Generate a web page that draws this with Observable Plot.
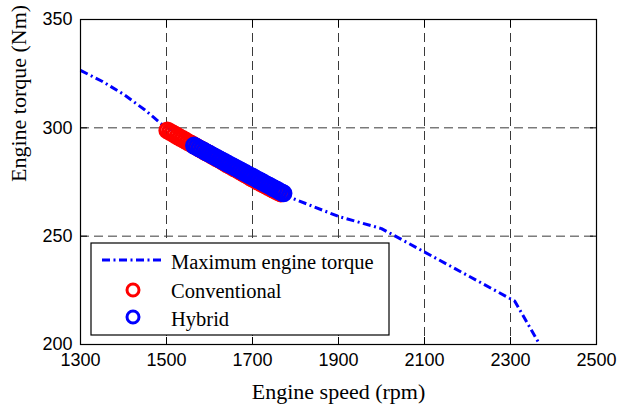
<!DOCTYPE html>
<html><head><meta charset="utf-8">
<script src="https://cdn.jsdelivr.net/npm/d3@7"></script>
<script src="https://cdn.jsdelivr.net/npm/@observablehq/plot@0.6"></script>
<style>
body{margin:0;background:#fff}
#wrap{position:relative;width:632px;height:404px;background:#fff}
#legend{position:absolute;left:0;top:0}
</style>
</head><body><div id="wrap"></div>
<script>
// ---- data ----
const xTicks = [1300, 1500, 1700, 1900, 2100, 2300, 2500];
const yTicks = [200, 250, 300, 350];
const xGrid = [1500, 1700, 1900, 2100, 2300];
const yGrid = [250, 300, 350];

const maxSpeed  = [1300, 1350, 1400, 1450, 1490, 1600, 1700, 1780, 1900, 2000, 2310, 2368];
const maxTorque = [326.5, 321.5, 315.5, 308.2, 301.5, 289.0, 277.5, 268.5, 259.1, 253.5, 220.0, 200.0];

const convSpeed  = [1502,1508,1514,1520,1526,1532,1538,1544,1550,1556,1562,1568,1574,1580,1586,1592,1598,1604,1610,1616,1622,1628,1634,1640,1646,1652,1658,1664,1670,1676,1682,1688,1694,1700,1706,1712,1718,1724,1730,1736,1742,1748,1754,1760,1766];
const convTorque = [298.8,298.1,297.5,296.8,296.1,295.4,294.8,294.1,293.4,292.8,292.1,291.4,290.7,290.1,289.4,288.7,288.1,287.4,286.7,286.0,285.4,284.7,284.0,283.3,282.7,282.0,281.3,280.7,280.0,279.3,278.6,278.0,277.3,276.6,276.0,275.3,274.6,274.0,273.4,272.8,272.2,271.5,270.9,270.3,269.7];

const hybSpeed  = [1564,1570,1576,1582,1588,1594,1600,1606,1612,1618,1624,1630,1636,1642,1648,1654,1660,1666,1672,1678,1684,1690,1696,1702,1708,1714,1720,1726,1732,1738,1744,1750,1756,1762,1768,1772];
const hybTorque = [291.8,291.2,290.5,289.9,289.3,288.6,288.0,287.4,286.7,286.1,285.4,284.8,284.2,283.5,282.9,282.3,281.6,281.0,280.4,279.7,279.1,278.4,277.8,277.2,276.5,275.9,275.3,274.6,274.0,273.4,272.7,272.1,271.5,270.8,270.2,269.8];

const xLabel = "Engine speed (rpm)";
const yLabel = "Engine torque (Nm)";
const legendLabels = ["Maximum engine torque", "Conventional", "Hybrid"];
const blue = "#0000ff", red = "#ff0000";

const maxData  = maxSpeed.map((s, i) => ({speed: s, torque: maxTorque[i]}));
const convData = convSpeed.map((s, i) => ({speed: s, torque: convTorque[i]}));
const hybData  = hybSpeed.map((s, i) => ({speed: s, torque: hybTorque[i]}));

const tickFont = "Liberation Sans, Arial, sans-serif";
const serif = "Liberation Serif, Times New Roman, serif";
const dashDot = "8,3.5,2,3.5";

const chart = Plot.plot({
  width: 632, height: 404,
  marginLeft: 80, marginRight: 36, marginTop: 19, marginBottom: 60,
  style: {background: "white", overflow: "visible", fontFamily: tickFont, fontSize: "18px"},
  x: {domain: [1300, 2500]},
  y: {domain: [200, 350]},
  marks: [
    Plot.ruleX(xGrid, {stroke: "#3a3a3a", strokeWidth: 1, strokeDasharray: "9,5"}),
    Plot.ruleY(yGrid, {stroke: "#3a3a3a", strokeWidth: 1, strokeDasharray: "9,5"}),
    Plot.line(maxData, {x: "speed", y: "torque", stroke: blue, strokeWidth: 3, strokeDasharray: dashDot, strokeLinecap: "butt", strokeLinejoin: "miter"}),
    Plot.dot(convData, {x: "speed", y: "torque", r: 7.5, stroke: red, strokeWidth: 3, fill: "none"}),
    Plot.dot(hybData, {x: "speed", y: "torque", r: 7.5, stroke: blue, strokeWidth: 3, fill: "none"}),
    Plot.frame({stroke: "black", strokeWidth: 1.2}),
    // inward ticks
    Plot.axisX({ticks: xTicks, tickSize: 7, dy: -7, tickFormat: () => "", label: null, stroke: "black"}),
    Plot.axisX({ticks: xTicks, anchor: "top", tickSize: 7, dy: 7, tickFormat: () => "", label: null, stroke: "black"}),
    Plot.axisY({ticks: yTicks, tickSize: 7, dx: 7, tickFormat: () => "", label: null, stroke: "black"}),
    Plot.axisY({ticks: yTicks, anchor: "right", tickSize: 7, dx: -7, tickFormat: () => "", label: null, stroke: "black"}),
    // tick labels
    Plot.axisX({ticks: xTicks, tickSize: 0, tickPadding: 9, tickFormat: d => String(d), label: null, fontSize: 18, fontFamily: tickFont, fill: "black"}),
    Plot.axisY({ticks: yTicks, tickSize: 0, tickPadding: 8, tickFormat: d => String(d), label: null, fontSize: 18, fontFamily: tickFont, fill: "black"}),
    // axis titles
    Plot.text([xLabel], {frameAnchor: "bottom", text: d => d, dy: 54, lineAnchor: "bottom", fontSize: 22, fontFamily: serif, fill: "black"}),
    Plot.text([yLabel], {frameAnchor: "left", text: d => d, dx: -55, rotate: -90, lineAnchor: "bottom", fontSize: 22, fontFamily: serif, fill: "black"})
  ]
});

const wrap = document.getElementById("wrap");
wrap.appendChild(chart);

// legend overlay
const lg = d3.select(wrap).append("svg").attr("id", "legend")
  .attr("width", 632).attr("height", 404);
lg.append("rect").attr("x", 91).attr("y", 243).attr("width", 298).attr("height", 92)
  .attr("fill", "white").attr("stroke", "black").attr("stroke-width", 1.2);
lg.append("line").attr("x1", 102).attr("x2", 164).attr("y1", 260).attr("y2", 260)
  .attr("stroke", blue).attr("stroke-width", 3).attr("stroke-dasharray", dashDot);
lg.append("circle").attr("cx", 133).attr("cy", 290).attr("r", 6)
  .attr("fill", "none").attr("stroke", red).attr("stroke-width", 3);
lg.append("circle").attr("cx", 133).attr("cy", 317).attr("r", 6)
  .attr("fill", "none").attr("stroke", blue).attr("stroke-width", 3);
const baselines = [269, 298, 326];
legendLabels.forEach((t, i) => {
  lg.append("text").attr("x", 171).attr("y", baselines[i])
    .attr("font-family", serif).attr("font-size", 20.5).attr("fill", "black").text(t);
});
</script>
</body></html>
